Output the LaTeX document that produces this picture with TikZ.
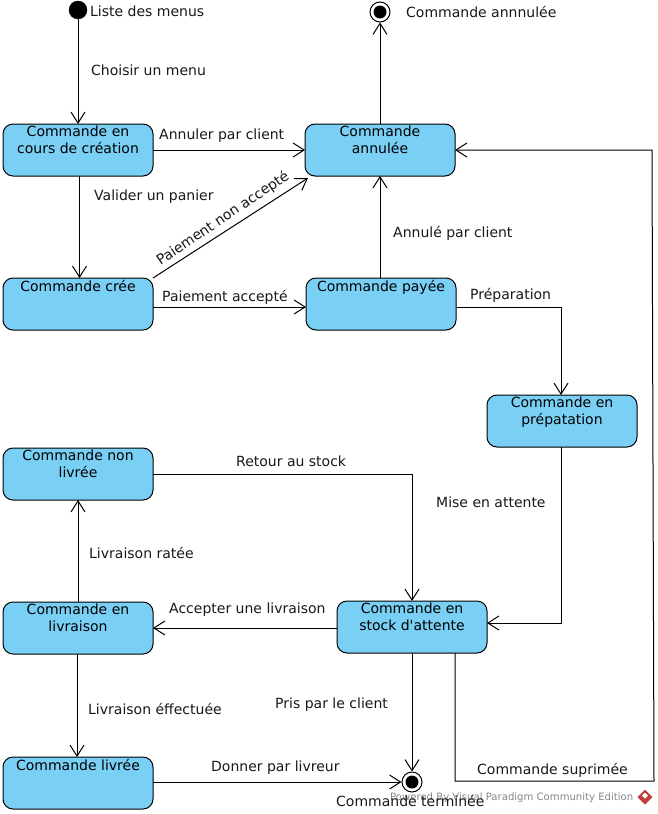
\documentclass[tikz,border=0pt]{standalone}
\usepackage{fontspec}
\setmainfont{DejaVu Sans}[Ligatures=TeXOff]
\usetikzlibrary{arrows.meta,calc}
\definecolor{statefill}{RGB}{122,207,245}
\definecolor{wm}{RGB}{135,135,135}
\definecolor{wmred}{RGB}{196,62,62}
\tikzset{
  x=1pt,y=-1pt,
  statebox/.style={draw=black,fill=statefill,rounded corners=10pt,line width=1pt,inner sep=0pt,outer sep=0pt,
    font=\fontsize{14pt}{17pt}\selectfont},
  lbl/.style={font=\fontsize{14pt}{16pt}\selectfont,inner sep=0pt,anchor=west,text=black!90},
  conn/.style={draw=black,line width=1pt,-{Straight Barb[length=11pt,width=14pt,line width=1pt]}},
  startdot/.style={circle,fill=black,draw=black,minimum size=18pt,inner sep=0pt},
  endouter/.style={circle,draw=black,fill=white,line width=1pt,minimum size=20pt,inner sep=0pt},
}
\newcommand{\statetext}[1]{\parbox[c][52pt][t]{150pt}{\centering\vspace*{1.8pt}#1}}
\begin{document}
\begin{tikzpicture}
\useasboundingbox (0,0) rectangle (657,814);
\fill[white] (0,0) rectangle (657,814);
% states
\node[statebox] (creation) at (78,150) {\statetext{Commande en\\cours de création}};
\node[statebox] (annulee) at (380,150) {\statetext{Commande\\annulée}};
\node[statebox] (cree) at (78,304) {\statetext{Commande crée}};
\node[statebox] (payee) at (381,304) {\statetext{Commande payée}};
\node[statebox] (prepa) at (562,421) {\statetext{Commande en\\prépatation}};
\node[statebox] (nonliv) at (78,474) {\statetext{Commande non\\livrée}};
\node[statebox] (enliv) at (78,628) {\statetext{Commande en\\livraison}};
\node[statebox] (stock) at (412,627) {\statetext{Commande en\\stock d'attente}};
\node[statebox] (livree) at (78,783) {\statetext{Commande livrée}};
% pseudo-states
\node[startdot] (init) at (78,10) {};
\node[endouter] (endA) at (380,12) {};
\fill[black] (endA) circle (6.5pt);
\node[endouter] (endB) at (412,782) {};
\fill[black] (endB) circle (6.5pt);
% free corners
\coordinate (c1) at (561,307);
\coordinate (c2) at (561,623);
\coordinate (c3) at (412,474);
\coordinate (c4) at (455,781);
\coordinate (c5) at (654,781);
\coordinate (c6) at (652,150);
% connectors
\draw[conn] (init) -- (creation.north);
\draw[conn] (creation.east) -- (annulee.west);
\draw[conn] ([xshift=1.5pt]creation.south) -- ([xshift=1.5pt]cree.north);
\draw[conn] (cree.north east) -- ([xshift=3pt,yshift=-2pt]annulee.south west);
\draw[conn] ($(cree.east)+(0,3)$) -- ($(payee.west)+(0,3)$);
\draw[conn] (annulee.south |- payee.north) -- (annulee.south);
\draw[conn] (annulee.north) -- (endA);
\draw[conn] (payee.east |- c1) -- (c1) -- (c1 |- prepa.north);
\draw[conn] (c2 |- prepa.south) -- (c2) -- (stock.east |- c2);
\draw[conn] (nonliv.east) -- (c3) -- (stock.north);
\draw[conn] (stock.west |- enliv.east) -- (enliv.east);
\draw[conn] (enliv.north) -- (nonliv.south);
\draw[conn] ([xshift=-1pt]enliv.south) -- ([xshift=-1pt]livree.north);
\draw[conn] (stock.south) -- (endB);
\draw[conn] (livree.east |- endB.west) -- (endB.west);
\draw[conn] (stock.south -| c4) -- (c4) -- (c5) -- (c6) -- (annulee.east);
% labels
\node[lbl] (t1) at (90,11.5) {Liste des menus};
\node[lbl] (t2) at (406,11.5) {Commande annnulée};
\node[lbl] (t3) at (91,70) {Choisir un menu};
\node[lbl] (t4) at (159,136) {Annuler par client};
\node[lbl] (t5) at (94,197) {Valider un panier};
\node[lbl,rotate=34,anchor=center] (t6) at (223,218.5) {Paiement non accepté};
\node[lbl] (t7) at (393,233) {Annulé par client};
\node[lbl] (t8) at (162,297) {Paiement accepté};
\node[lbl] (t9) at (470,295) {Préparation};
\node[lbl] (t10) at (436,502) {Mise en attente};
\node[lbl] (t11) at (236,461) {Retour au stock};
\node[lbl] (t12) at (89,553) {Livraison ratée};
\node[lbl] (t13) at (169,610) {Accepter une livraison};
\node[lbl] (t14) at (88,709) {Livraison éffectuée};
\node[lbl] (t15) at (275,705) {Pris par le client};
\node[lbl] (t16) at (211,768) {Donner par livreur};
\node[lbl] (t17) at (477,770) {Commande suprimée};
% watermark
\node[lbl,text=wm,font=\fontsize{10.1pt}{12pt}\selectfont] (wmk) at (390,797.5) {Powered By Visual Paradigm Community Edition};
\node[lbl] (t18) at (336,801) {Commande terminée};
\fill[wmred] (645,789.5) -- (652.5,797) -- (645,804.5) -- (637.5,797) -- cycle;
\fill[white] (645,792.5) -- (648,795.5) -- (645,798.5) -- (642,795.5) -- cycle;
\end{tikzpicture}
\end{document}
